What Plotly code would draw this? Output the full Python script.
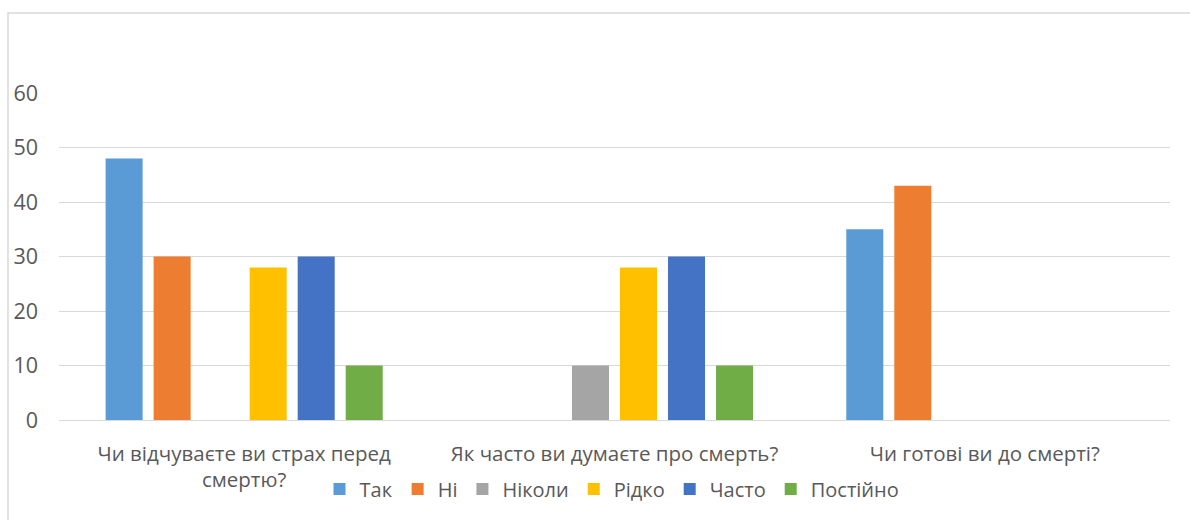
import plotly.graph_objects as go

categories = ["Чи відчуваєте ви страх перед<br>смертю?",
              "Як часто ви думаєте про смерть?",
              "Чи готові ви до смерті?"]
series_names = ["Так", "Ні", "Ніколи", "Рідко", "Часто", "Постійно"]
tak = [48, None, 35]
ni = [30, None, 43]
nikoly = [None, 10, None]
ridko = [28, 28, None]
chasto = [30, 30, None]
postiyno = [10, 10, None]
colors = ["#5B9BD5", "#ED7D31", "#A5A5A5", "#FFC000", "#4472C4", "#70AD47"]
y_ticks = [0, 10, 20, 30, 40, 50, 60]

W, H = 1190, 520
L, R, T, B = 59, 20, 93, 100
pw, ph = W - L - R, H - T - B

def px_x(p):
    return (p - L) / pw

def px_y(p):
    return (H - B - p) / ph

FONT = "Open Sans"
TXT = "#595959"

fig = go.Figure()
for name, vals, c in zip(series_names, [tak, ni, nikoly, ridko, chasto, postiyno], colors):
    fig.add_trace(go.Bar(name=name, x=categories, y=vals, marker_color=c,
                         marker_line_width=0))

fig.update_layout(
    width=W, height=H,
    margin=dict(l=L, r=R, t=T, b=B),
    paper_bgcolor="white", plot_bgcolor="white",
    barmode="group", bargap=0.222, bargroupgap=0.229,
    font=dict(family=FONT, color=TXT, size=20.5),
    showlegend=True,
    legend=dict(orientation="h", x=px_x(612), xanchor="center",
                y=px_y(489), yanchor="middle",
                font=dict(family=FONT, size=20, color=TXT),
                traceorder="normal", itemwidth=30),
    xaxis=dict(showgrid=False, showline=True, linecolor="#D9D9D9", linewidth=1,
               ticks="", tickfont=dict(family=FONT, size=20.5, color=TXT),
               ticklabelstandoff=15),
    yaxis=dict(range=[0, 60], tickvals=y_ticks, showgrid=True, gridcolor="#D9D9D9",
               gridwidth=1, zeroline=False, showline=False,
               tickfont=dict(family=FONT, size=21.5, color=TXT), ticklabelstandoff=20),
    shapes=[dict(type="rect", xref="paper", yref="paper",
                 x0=px_x(8), x1=px_x(1200), y0=px_y(540), y1=px_y(13),
                 line=dict(color="#D9D9D9", width=1.5), fillcolor="rgba(0,0,0,0)",
                 layer="below")],
)

fig.write_html("out.html")
